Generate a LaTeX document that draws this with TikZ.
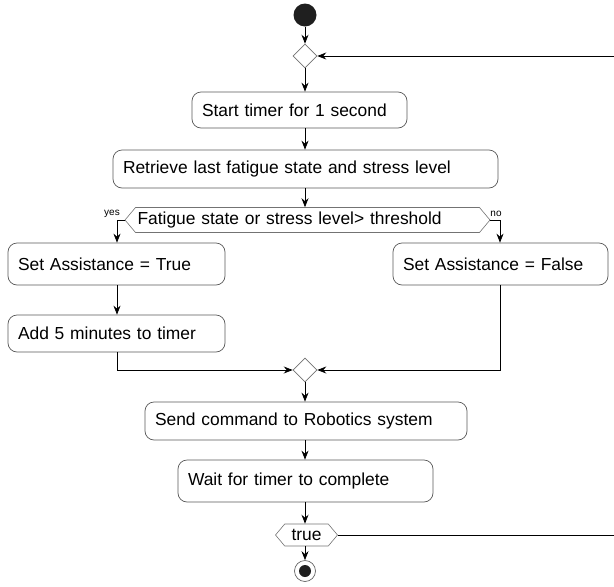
\documentclass[tikz,border=0pt]{standalone}
\usepackage{fontspec}
\setmainfont{Liberation Sans}
\usetikzlibrary{arrows.meta,shapes.symbols,shapes.geometric}
\begin{document}
\begin{tikzpicture}[x=1pt,y=-1pt,
  act/.style={draw=black!65, line width=0.7pt, rounded corners=9pt, fill=white, align=left,
    inner xsep=10pt, inner ysep=0pt, font=\fontsize{17.4}{20}\selectfont, anchor=center},
  hexa/.style={draw=black!55, line width=0.6pt, signal, signal to=west and east, signal pointer angle=100,
    inner xsep=2pt, inner ysep=0pt, font=\fontsize{17.4}{20}\selectfont},
  dia/.style={draw=black!55, line width=0.6pt, diamond, minimum size=24pt, inner sep=0pt, fill=white},
  arr/.style={line width=0.8pt, -{Stealth[length=9pt,width=7pt,inset=3pt]}},
  lbl/.style={font=\fontsize{10}{12}\selectfont, inner sep=0pt}]
\useasboundingbox (0,0) rectangle (614,587);
% start
\node[circle, fill=black!88, minimum size=23pt, inner sep=0pt] (start) at (305,15) {};
\node[dia] (d1) at (305,56) {};
\node[act, text width=195pt, minimum height=36pt] (b1) at (299.5,110) {Start timer for 1 second};
\node[act, text width=365pt, minimum height=38pt] (b2) at (305.5,169) {Retrieve last fatigue state and stress level};
\node[hexa, text width=340pt, align=left, minimum height=25pt] (h1) at (307.5,220) {Fatigue state or stress level> threshold};
\node[act, text width=197pt, minimum height=42pt] (b3) at (116.5,264) {Set Assistance = True};
\node[act, text width=195pt, minimum height=42pt] (b4) at (500.5,264) {Set Assistance = False};
\node[act, text width=197pt, minimum height=37pt] (b5) at (116.5,333.5) {Add 5 minutes to timer};
\node[dia] (d2) at (305,370) {};
\node[act, text width=302pt, minimum height=38pt] (b6) at (306,421) {Send command to Robotics system};
\node[act, text width=235pt, minimum height=42pt] (b7) at (305.5,481) {Wait for timer to complete};
\node[hexa, minimum width=62pt, minimum height=22pt] (h2) at (306.5,535) {true};
\node[circle, draw=black!60, line width=0.7pt, minimum size=21pt, inner sep=0pt, fill=white] (end) at (305,571) {};
\node[circle, fill=black!88, minimum size=12pt, inner sep=0pt] (endin) at (end) {};
% labels
\node[lbl] (yes) at (112,214) {yes};
\node[lbl] (no) at (496,214) {no};
% coordinates for loop
\coordinate (rtop) at (616,56);
\coordinate (rbot) at (616,535);
\coordinate (ly) at (117,220);
\coordinate (ry) at (500,220);
\coordinate (lm) at (117,370);
\coordinate (rm) at (500,370);
% connectors
\draw[arr] (start) -- (d1);
\draw[arr] (d1) -- (b1.north -| d1);
\draw[arr] (b1.south -| d1) -- (b2.north -| d1);
\draw[arr] (b2.south -| d1) -- (h1.north -| d1);
\draw[arr] (h1.west) -- (ly) -- (b3.north -| ly);
\draw[arr] (h1.east) -- (ry) -- (b4.north -| ry);
\draw[arr] (b3.south -| ly) -- (b5.north -| ly);
\draw[arr] (b5.south -| lm) -- (lm) -- (d2.west);
\draw[arr] (b4.south -| rm) -- (rm) -- (d2.east);
\draw[arr] (d2) -- (b6.north -| d2);
\draw[arr] (b6.south -| d2) -- (b7.north -| d2);
\draw[arr] (b7.south -| d2) -- (h2.north -| d2);
\draw[arr] (h2.south -| d2) -- (end);
\draw[arr] (h2.east) -- (rbot) -- (rtop) -- (d1.east);
\end{tikzpicture}
\end{document}
